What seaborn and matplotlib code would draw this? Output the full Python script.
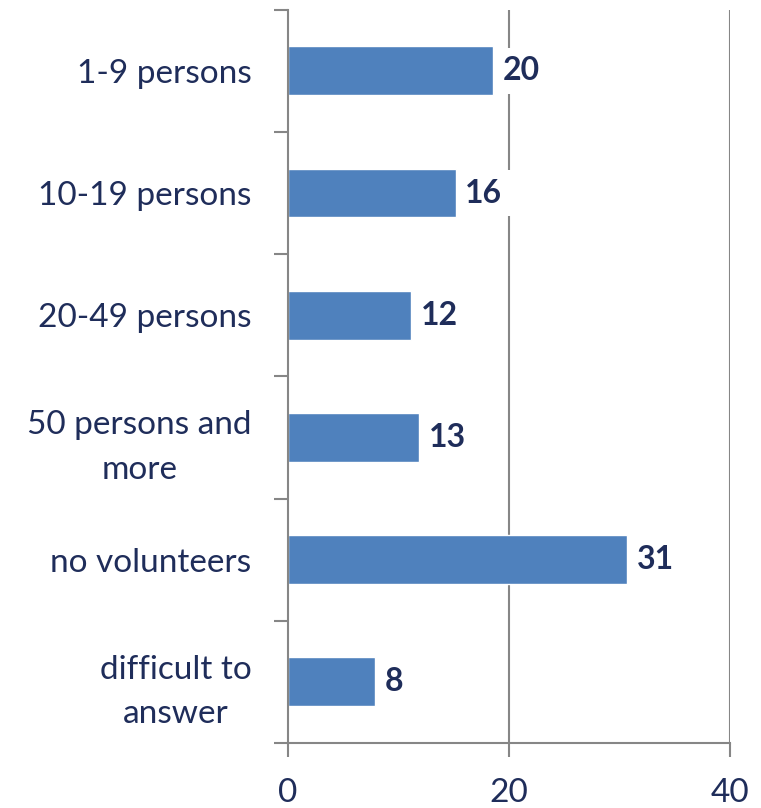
import matplotlib
matplotlib.use('Agg')
import matplotlib.pyplot as plt
import seaborn as sns
import pandas as pd

categories = ['1-9 persons', '10-19 persons', '20-49 persons',
              '50 persons and\nmore', 'no volunteers', 'difficult to\nanswer']
values = [18.6, 15.2, 11.2, 11.9, 30.7, 7.9]
value_labels = ['20', '16', '12', '13', '31', '8']
x_ticks = [0, 20, 40]

navy = '#1f2d5a'
grey = '#868686'
bar_color = '#4f81bd'

sns.set_theme(style='white')
plt.rcParams['font.family'] = ['Lato', 'DejaVu Sans']

df = pd.DataFrame({'category': categories, 'value': values})

fig = plt.figure(figsize=(7.61, 8.08), dpi=100)
ax = fig.add_axes([0.378, 0.0804, 0.581, 0.9076])

sns.barplot(data=df, x='value', y='category', color=bar_color, width=0.4,
            saturation=1, ax=ax)

ax.bar_label(ax.containers[0], labels=value_labels, padding=7,
             fontsize=23, fontweight='bold', color=navy,
             bbox=dict(facecolor='white', edgecolor='none', pad=6))

ax.set_xlim(0, 40)
ax.set_ylim(len(categories) - 0.5, -0.5)
ax.set_xticks(x_ticks)
ax.set_xlabel('')
ax.set_ylabel('')

# vertical gridlines at 20 and 40
for x in x_ticks[1:]:
    ax.axvline(x, color=grey, lw=1.5, zorder=0)

for side in ['top', 'right']:
    ax.spines[side].set_visible(False)
for side in ['left', 'bottom']:
    ax.spines[side].set_color(grey)
    ax.spines[side].set_linewidth(1.5)

# y ticks sit between categories
ax.set_yticks(range(len(categories)))
ax.set_yticklabels(categories, multialignment='center', linespacing=1.6)
ax.set_yticks([i - 0.5 for i in range(len(categories) + 1)], minor=True)
ax.tick_params(axis='y', which='major', length=0, pad=26, labelsize=24,
               labelcolor=navy)
ax.tick_params(axis='y', which='minor', length=10, width=1.5, color=grey,
               direction='out', left=True)
ax.tick_params(axis='x', length=10, width=1.5, color=grey, direction='out',
               labelsize=24, labelcolor=navy, pad=15, bottom=True)

fig.savefig('out.png', dpi=100)
